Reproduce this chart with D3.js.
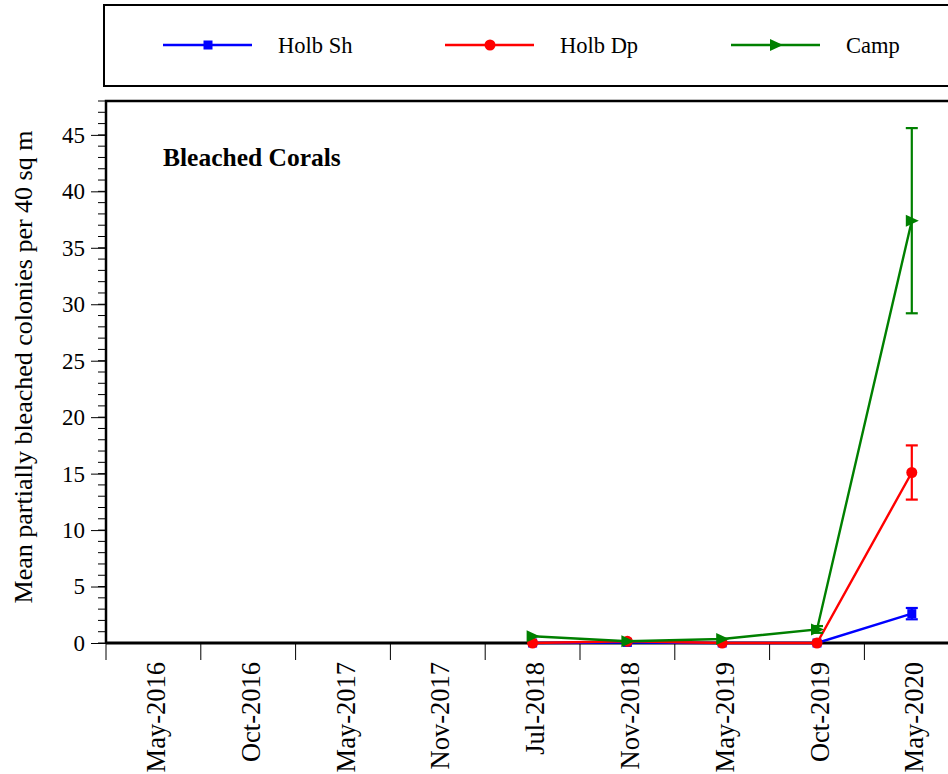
<!DOCTYPE html>
<html><head><meta charset="utf-8">
<script src="https://cdn.jsdelivr.net/npm/d3@7"></script>
<style>body{margin:0;background:#fff}svg{display:block}text{font-family:"Liberation Serif","Times New Roman",serif}</style>
</head><body><svg id="c" width="948" height="774"></svg>
<script>
const categories = ["May-2016","Oct-2016","May-2017","Nov-2017","Jul-2018","Nov-2018","May-2019","Oct-2019","May-2020"];
const seriesNames = ["Holb Sh","Holb Dp","Camp"];
const holbShDates = ["Jul-2018","Nov-2018","May-2019","Oct-2019","May-2020"];
const holbShValues = [0, 0.05, 0, 0, 2.6];
const holbShErr = [0, 0, 0, 0, 0.5];
const holbDpValues = [0, 0.15, 0, 0, 15.1];
const holbDpErr = [0, 0, 0, 0, 2.4];
const campValues = [0.6, 0.15, 0.35, 1.2, 37.4];
const campErr = [0, 0, 0, 0.3, 8.2];
const yTicks = [0,5,10,15,20,25,30,35,40,45];

const svg = d3.select("#c");
const L = 106, T = 101, B = 643, bw = 94.8;
const x = d3.scaleBand().domain(categories).range([L, L + bw*categories.length]).padding(0);
const y = d3.scaleLinear().domain([0,48]).range([B, T]);

// frame
svg.append("path").attr("d",`M${L},${B}V${T}H960`).attr("fill","none").attr("stroke","#000").attr("stroke-width",2.5);
svg.append("line").attr("x1",L).attr("x2",960).attr("y1",B).attr("y2",B).attr("stroke","#000").attr("stroke-width",3);

// y axis minor ticks
const yMinor = d3.range(0,49,1);
svg.append("g").selectAll("line").data(yMinor).join("line")
  .attr("x1",L-8).attr("x2",L).attr("y1",d=>y(d)).attr("y2",d=>y(d)).attr("stroke","#000").attr("stroke-width",1);
const yAxis = d3.axisLeft(y).tickValues(yTicks).tickSize(15).tickPadding(6);
const gy = svg.append("g").attr("transform",`translate(${L},0)`).call(yAxis);
gy.select(".domain").remove();
gy.selectAll("line").attr("stroke","#000").attr("stroke-width",1);
gy.selectAll("text").attr("font-size",23).attr("fill","#000").style("font-family","Liberation Serif");

// x axis: ticks at band boundaries
const bounds = categories.map(c=>x(c));
svg.append("g").selectAll("line").data(bounds).join("line")
  .attr("x1",d=>d).attr("x2",d=>d).attr("y1",B).attr("y2",B+17).attr("stroke","#000").attr("stroke-width",1);
svg.append("g").selectAll("text").data(categories).join("text")
  .attr("transform",d=>`translate(${x(d)+x.bandwidth()/2+11.5},${B+19}) rotate(-90)`)
  .attr("text-anchor","end").attr("font-size",26.5).attr("fill","#000").text(d=>d);

// y label
svg.append("text").attr("transform","translate(32,367) rotate(-90)").attr("text-anchor","middle")
  .attr("font-size",26).text("Mean partially bleached colonies per 40 sq m");

svg.append("text").attr("x",163).attr("y",166).attr("font-size",25.5).attr("font-weight","bold").text("Bleached Corals");

const cx = d => x(d) + x.bandwidth()/2;
const series = [
  {name:seriesNames[0], color:"#0000ff", vals:holbShValues, err:holbShErr, marker:"square"},
  {name:seriesNames[1], color:"#ff0000", vals:holbDpValues, err:holbDpErr, marker:"circle"},
  {name:seriesNames[2], color:"#008000", vals:campValues, err:campErr, marker:"triangle"}
];
function drawMarker(g, type, px, py, color){
  if(type==="square") g.append("rect").attr("x",px-4.5).attr("y",py-4.5).attr("width",9).attr("height",9).attr("fill",color);
  else if(type==="circle") g.append("circle").attr("cx",px).attr("cy",py).attr("r",5.5).attr("fill",color);
  else g.append("path").attr("d",`M${px-6},${py-6}L${px+7},${py}L${px-6},${py+6}Z`).attr("fill",color);
}
const line = d3.line().x(d=>cx(d.date)).y(d=>y(d.v));
series.forEach(s=>{
  const data = holbShDates.map((d,i)=>({date:d, v:s.vals[i], e:s.err[i]}));
  const g = svg.append("g");
  g.append("path").datum(data).attr("d",line).attr("fill","none").attr("stroke",s.color).attr("stroke-width",2.4);
  data.filter(d=>d.e>0).forEach(d=>{
    const px = cx(d.date);
    g.append("line").attr("x1",px).attr("x2",px).attr("y1",y(d.v+d.e)).attr("y2",y(d.v-d.e)).attr("stroke",s.color).attr("stroke-width",2.2);
    [d.v+d.e, d.v-d.e].forEach(v=>g.append("line").attr("x1",px-6).attr("x2",px+6).attr("y1",y(v)).attr("y2",y(v)).attr("stroke",s.color).attr("stroke-width",2.2));
  });
  data.forEach(d=>drawMarker(g, s.marker, cx(d.date), y(d.v), s.color));
});

// legend
svg.append("rect").attr("x",104).attr("y",5).attr("width",850).attr("height",81).attr("fill","none").attr("stroke","#000").attr("stroke-width",2);
const legX = [163, 445, 731];
series.forEach((s,i)=>{
  const g = svg.append("g");
  g.append("line").attr("x1",legX[i]).attr("x2",legX[i]+89).attr("y1",45).attr("y2",45).attr("stroke",s.color).attr("stroke-width",2.4);
  drawMarker(g, s.marker, legX[i]+45, 45, s.color);
  g.append("text").attr("x",legX[i]+115).attr("y",53).attr("font-size",22.5).text(s.name);
});
</script></body></html>
